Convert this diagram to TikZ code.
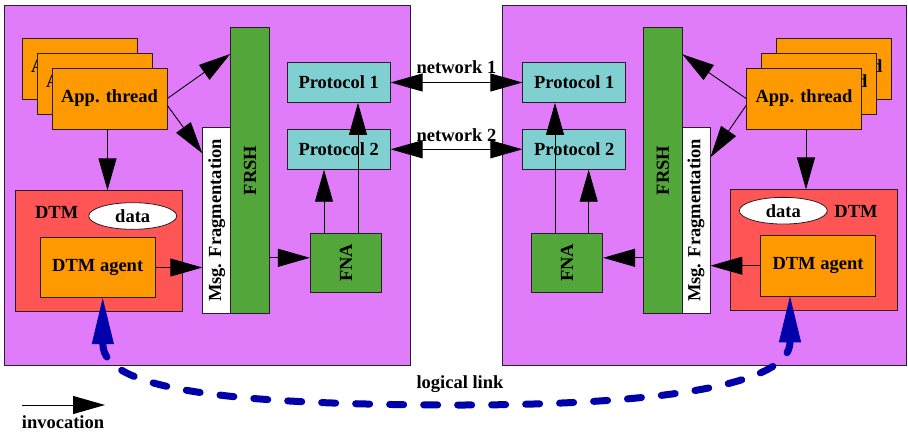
\documentclass[tikz,border=0pt]{standalone}
\usepackage{fontspec}
\setmainfont{Liberation Serif}
\usetikzlibrary{arrows.meta}
\usetikzlibrary{shapes.geometric}
\definecolor{hostpurple}{RGB}{224,123,250}
\definecolor{threadorange}{RGB}{255,153,0}
\definecolor{frshgreen}{RGB}{83,166,58}
\definecolor{protocyan}{RGB}{128,208,210}
\definecolor{dtmred}{RGB}{255,85,85}
\definecolor{linkblue}{RGB}{0,0,170}
\definecolor{edgedark}{RGB}{40,30,40}

\begin{document}
\begin{tikzpicture}[x=1pt, y=-1pt,
  every node/.style={font=\fontsize{18.5}{21}\selectfont\bfseries, inner sep=0pt},
  blk/.style={draw=edgedark, line width=0.8pt},
  thread/.style={blk, fill=threadorange, minimum width=115pt, minimum height=61pt},
  proto/.style={blk, fill=protocyan, minimum width=103pt, minimum height=40pt},
  frsh/.style={blk, fill=frshgreen, minimum width=38.5pt, minimum height=285.6pt},
  frag/.style={blk, fill=white, minimum width=28pt, minimum height=185.6pt},
  fna/.style={blk, fill=frshgreen, minimum width=71.4pt, minimum height=59pt},
  dtm/.style={blk, fill=dtmred, minimum width=167pt, minimum height=120.3pt},
  agent/.style={blk, fill=threadorange, minimum width=115.3pt, minimum height=60.4pt},
  data/.style={blk, ellipse, fill=white, minimum width=88pt, minimum height=26.7pt},
  inv/.style={-{Triangle[length=32pt, width=18pt]}, line width=0.9pt},
  net/.style={{Triangle[length=32pt, width=18pt]}-{Triangle[length=32pt, width=18pt]}, line width=0.9pt},
  link/.style={{Triangle[length=46pt, width=22pt, line width=1pt]}-{Triangle[length=46pt, width=22pt, line width=1pt]},
    linkblue, line width=7pt, line cap=round, dash pattern=on 14pt off 20pt}
]
\useasboundingbox (0,0) rectangle (908,434);

% Hosts
\node[blk, fill=hostpurple, minimum width=406pt, minimum height=360pt] (hostL) at (207,185) {};
\node[blk, fill=hostpurple, minimum width=403.3pt, minimum height=360pt] (hostR) at (704.4,185) {};

% Application threads (stacked)
\foreach \i/\d in {3/0,2/15,1/30} {
  \node[thread] (appL\i) at (79.5+\d, 68.5+\d) {App. thread};
  \node[thread] (appR\i) at (834-\d, 68.5+\d) {App. thread};
}

% Left host
\node[frsh] (frshL) at (250,170.5) {\rotatebox{90}{FRSH}};
\node[frag] (fragL) at (216.7,220.5) {\rotatebox{90}{Msg. Fragmentation}};
\node[proto] (protoL1) at (338.7,82.5) {Protocol 1};
\node[proto] (protoL2) at (338.7,149.3) {Protocol 2};
\node[fna] (fnaL) at (346,262.8) {\rotatebox{90}{FNA}};
\node[dtm] (dtmL) at (98.5,250.9) {};
\node (dtmLlbl) at (56.7,212) {DTM};
\node[data] (dataL) at (132.7,216) {data};
\node[agent] (agentL) at (97.7,267.5) {DTM agent};

% Right host
\node[frsh] (frshR) at (662.8,170.5) {\rotatebox{90}{FRSH}};
\node[frag] (fragR) at (696,220.5) {\rotatebox{90}{Msg. Fragmentation}};
\node[proto] (protoR1) at (574.3,82.5) {Protocol 1};
\node[proto] (protoR2) at (574.3,149.3) {Protocol 2};
\node[fna] (fnaR) at (567,262.8) {\rotatebox{90}{FNA}};
\node[dtm] (dtmR) at (814,250) {};
\node (dtmRlbl) at (856,211.7) {DTM};
\node[data] (dataR) at (783.3,210.7) {data};
\node[agent] (agentR) at (818,265.7) {DTM agent};

% Invocations, left
\draw[inv] (appL1.east) -- ([yshift=-26.6pt]frshL.north west);
\draw[inv] ([yshift=-7pt]appL1.east) -- ([yshift=-26pt]fragL.north west);
\draw[inv] ([xshift=-2pt]appL1.south) -- ([xshift=-2pt]appL1.south |- dtmL.north);
\draw[inv] (agentL.east) -- (agentL.east -| fragL.west);
\coordinate (fnaLin) at ([yshift=5pt]fnaL.west);
\draw[inv] (frshL.east |- fnaLin) -- (fnaLin);
\draw[inv] ([xshift=-22pt]fnaL.north) -- ([xshift=-22pt]fnaL.north |- protoL2.south);
\draw[inv] ([xshift=12pt]fnaL.north) -- ([xshift=12pt]fnaL.north |- protoL1.south);

% Invocations, right
\draw[inv] (appR1.west) -- ([yshift=-27pt]frshR.north east);
\draw[inv] ([yshift=-7pt]appR1.west) -- ([yshift=-30pt]fragR.north east);
\draw[inv] ([xshift=2pt]appR1.south) -- ([xshift=2pt]appR1.south |- dtmR.north);
\draw[inv] (agentR.west) -- (agentR.west -| fragR.east);
\coordinate (fnaRin) at ([yshift=5pt]fnaR.east);
\draw[inv] (frshR.west |- fnaRin) -- (fnaRin);
\draw[inv] ([xshift=-12pt]fnaR.north) -- ([xshift=-12pt]fnaR.north |- protoR1.south);
\draw[inv] ([xshift=21.7pt]fnaR.north) -- ([xshift=21.7pt]fnaR.north |- protoR2.south);

% Networks
\draw[net] (protoL1.east) -- node[above=8pt] (net1) {network 1} (protoR1.west);
\draw[net] (protoL2.east) -- node[above=7pt] (net2) {network 2} (protoR2.west);

% Logical link
\draw[link] ([xshift=5pt]agentL.south) .. controls (103,390) and (230,405) .. (460,405)
  .. controls (660,405) and (790,385) .. ([xshift=-28pt]agentR.south);
\node (linklbl) at (460,384) {logical link};

% Legend
\coordinate (invA) at (22,405);
\coordinate (invB) at (105,405);
\draw[inv] (invA) -- (invB);
\node (invlbl) at (63,422) {invocation};

\end{tikzpicture}
\end{document}
